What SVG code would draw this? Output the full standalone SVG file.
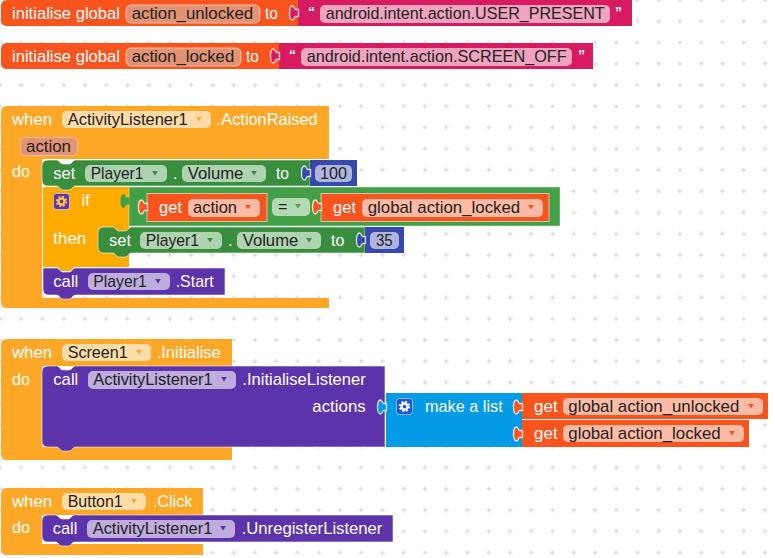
<svg xmlns="http://www.w3.org/2000/svg" width="775" height="558" viewBox="0 0 775 558">
<style>
text{font-family:"Liberation Sans",Arial,Helvetica,sans-serif;font-size:16.2px}
.w{fill:#fff}.k{fill:#222}
.red{fill:#F9541E}.pink{fill:#D81B60}.when{fill:#FFA726}.amber{fill:#FFAB00}.g1{fill:#388E3C}.g2{fill:#43A047}.ind{fill:#3949AB}.pur{fill:#5C33AB}.sky{fill:#039BE5}
.f{fill:#fff;fill-opacity:.6}
.v{fill:#E19374;stroke:#F3BCA4;stroke-width:1}
.e{stroke:#fff;stroke-opacity:.55;stroke-width:1}
.tab{stroke:#fff;stroke-opacity:.8;stroke-width:1.300}
.q{font-size:14px;font-weight:bold}
</style>
<defs>
<pattern id="grid" x="-10.625" y="-10.625" width="21.25" height="21.25" patternUnits="userSpaceOnUse">
<path d="M8.100,10.600h5M10.600,8.100v5" stroke="#d4d4d4" stroke-width="1" fill="none"/>
</pattern>
<path id="tab" d="M.5,-3.500H-2.500C-3.500,-3.500 -3.500,-7 -5.500,-7C-7.500,-7 -8.500,-4 -8.500,0C-8.500,4 -7.500,7 -5.500,7C-3.500,7 -3.500,3.500 -2.500,3.500H.5Z"/>
<path id="arrow" d="M-2.800,-2H2.800L0,2.600Z"/>
<g id="gearshape" fill="none"><circle r="3" stroke-width="2.400" stroke="currentColor"/><circle r="4.800" stroke-width="1.800" stroke-dasharray="2 1.770" stroke="currentColor"/></g>
</defs>
<rect width="775" height="558" fill="#fff"/>
<rect width="775" height="558" fill="url(#grid)"/>

<g id="init-unlocked">
<path class="red" d="M7,0H298V26H7Q1,26 1,20V6Q1,0 7,0Z"/>
<text class="w" x="12" y="19" textLength="108" lengthAdjust="spacingAndGlyphs">initialise global</text>
<rect class="v" x="126" y="5" width="134" height="18" rx="5"/>
<text class="k" x="131.700" y="19" textLength="121.500" lengthAdjust="spacingAndGlyphs">action_unlocked</text>
<text class="w" x="265" y="19" textLength="13" lengthAdjust="spacingAndGlyphs">to</text>
<rect class="pink" x="298" y="0" width="334" height="26"/>
<use href="#tab" class="pink tab" x="298" y="13"/>
<text class="w q" x="308" y="17">“</text>
<rect class="f" x="320" y="5" width="290" height="18" rx="5"/>
<text class="k" x="325.700" y="19" textLength="279" lengthAdjust="spacingAndGlyphs">android.intent.action.USER_PRESENT</text>
<text class="w q" x="615" y="17">”</text>
</g>

<g id="init-locked">
<path class="red" d="M7,43H279V69H7Q1,69 1,63V49Q1,43 7,43Z"/>
<text class="w" x="12" y="62" textLength="108" lengthAdjust="spacingAndGlyphs">initialise global</text>
<rect class="v" x="126" y="48" width="115" height="18" rx="5"/>
<text class="k" x="131.700" y="62" textLength="102.600" lengthAdjust="spacingAndGlyphs">action_locked</text>
<text class="w" x="246" y="62" textLength="13" lengthAdjust="spacingAndGlyphs">to</text>
<rect class="pink" x="279" y="43" width="314" height="26"/>
<use href="#tab" class="pink tab" x="279" y="56"/>
<text class="w q" x="289" y="60">“</text>
<rect class="f" x="301" y="48" width="271" height="18" rx="5"/>
<text class="k" x="306.700" y="62" textLength="260" lengthAdjust="spacingAndGlyphs">android.intent.action.SCREEN_OFF</text>
<text class="w q" x="578" y="60">”</text>
</g>

<g id="when-action">
<path class="when" d="M7,106H329V159H42V298H329V308H7Q1,308 1,302V112Q1,106 7,106Z"/>
<text class="w" x="12" y="125" textLength="40" lengthAdjust="spacingAndGlyphs">when</text>
<rect class="f" x="62" y="111" width="149" height="17" rx="5"/>
<text class="k" x="67.700" y="125" textLength="120" lengthAdjust="spacingAndGlyphs">ActivityListener1</text>
<use href="#arrow" x="199" y="119" fill="#FFA726"/>
<text class="w" x="216.700" y="125" textLength="101" lengthAdjust="spacingAndGlyphs">.ActionRaised</text>
<rect class="v" x="20.500" y="137.500" width="57" height="18" rx="5"/>
<text class="k" x="26" y="152" textLength="45" lengthAdjust="spacingAndGlyphs">action</text>
<text class="w" x="12" y="177" textLength="18" lengthAdjust="spacingAndGlyphs">do</text>
</g>

<g id="if-block">
<path class="amber" d="M43,187H129V267H75c-2,0 -3,4 -6,4h-6c-3,0 -4,-4 -6,-4H43Z"/>
<rect x="53.500" y="193.500" width="16" height="16" rx="3" fill="#5C33AB" stroke="#ffffff" stroke-opacity=".5"/>
<use href="#gearshape" x="61.500" y="201.500" style="color:#FFC24D"/>
<text class="w" x="81.700" y="206" textLength="8" lengthAdjust="spacingAndGlyphs">if</text>
<text class="w" x="53.300" y="244" textLength="33" lengthAdjust="spacingAndGlyphs">then</text>
</g>

<g id="compare-block">
<rect class="g2" x="129" y="187" width="431" height="39" stroke="#fff" stroke-opacity=".4"/>
<use href="#tab" class="g2" x="129" y="201"/>
<rect class="red e" x="147" y="193.500" width="120" height="28"/>
<use href="#tab" class="red tab" x="147" y="207"/>
<text class="w" x="159" y="213" textLength="23" lengthAdjust="spacingAndGlyphs">get</text>
<rect class="f" x="188" y="199" width="72" height="18" rx="5"/>
<text class="k" x="193" y="213" textLength="44" lengthAdjust="spacingAndGlyphs">action</text>
<use href="#arrow" x="248" y="207" fill="#F9541E"/>
<rect class="f" x="272" y="198" width="38" height="18" rx="5"/>
<text class="k" x="278" y="212">=</text>
<use href="#arrow" x="298" y="206" fill="#43A047"/>
<rect class="red e" x="321" y="193.500" width="228" height="28"/>
<use href="#tab" class="red tab" x="321" y="207"/>
<text class="w" x="333" y="213" textLength="23" lengthAdjust="spacingAndGlyphs">get</text>
<rect class="f" x="362" y="199" width="181" height="18" rx="5"/>
<text class="k" x="367.700" y="213" textLength="152.500" lengthAdjust="spacingAndGlyphs">global action_locked</text>
<use href="#arrow" x="531" y="207" fill="#F9541E"/>
</g>

<g id="set-35">
<path class="g1 e" d="M104,227H113c2,0 3,4 6,4h6c3,0 4,-4 6,-4H365V253H131c-2,0 -3,4 -6,4h-6c-3,0 -4,-4 -6,-4H104Q98,253 98,247V233Q98,227 104,227Z"/>
<text class="w" x="109" y="246" textLength="22" lengthAdjust="spacingAndGlyphs">set</text>
<rect class="f" x="140" y="232" width="82" height="17" rx="5"/>
<text class="k" x="145.700" y="246" textLength="53.300" lengthAdjust="spacingAndGlyphs">Player1</text>
<use href="#arrow" x="210" y="240" fill="#388E3C"/>
<text class="w" x="228" y="246">.</text>
<rect class="f" x="237" y="232" width="84" height="17" rx="5"/>
<text class="k" x="242.700" y="246" textLength="55.600" lengthAdjust="spacingAndGlyphs">Volume</text>
<use href="#arrow" x="309" y="240" fill="#388E3C"/>
<text class="w" x="331" y="246" textLength="13.300" lengthAdjust="spacingAndGlyphs">to</text>
<rect class="ind" x="365" y="227" width="39" height="26"/>
<use href="#tab" class="ind tab" x="365" y="240"/>
<rect class="f" x="370" y="232" width="29" height="17" rx="5"/>
<text class="k" x="376" y="246" textLength="16.700" lengthAdjust="spacingAndGlyphs">35</text>
</g>

<g id="set-100">
<path class="g1 e" d="M48,160H57c2,0 3,4 6,4h6c3,0 4,-4 6,-4H310V186H75c-2,0 -3,4 -6,4h-6c-3,0 -4,-4 -6,-4H48Q42,186 42,180V166Q42,160 48,160Z"/>
<text class="w" x="53.300" y="179" textLength="22" lengthAdjust="spacingAndGlyphs">set</text>
<rect class="f" x="85" y="165" width="82" height="17" rx="5"/>
<text class="k" x="90.700" y="179" textLength="52.700" lengthAdjust="spacingAndGlyphs">Player1</text>
<use href="#arrow" x="155" y="173" fill="#388E3C"/>
<text class="w" x="173" y="179">.</text>
<rect class="f" x="182" y="165" width="84" height="17" rx="5"/>
<text class="k" x="187.700" y="179" textLength="55.700" lengthAdjust="spacingAndGlyphs">Volume</text>
<use href="#arrow" x="254" y="173" fill="#388E3C"/>
<text class="w" x="276" y="179" textLength="13" lengthAdjust="spacingAndGlyphs">to</text>
<rect class="ind" x="310" y="160" width="47" height="26"/>
<use href="#tab" class="ind tab" x="310" y="173"/>
<rect class="f" x="315" y="165" width="37" height="17" rx="5"/>
<text class="k" x="320" y="179" textLength="27" lengthAdjust="spacingAndGlyphs">100</text>
</g>

<g id="call-start">
<path class="pur e" d="M43,268H57c2,0 3,4 6,4h6c3,0 4,-4 6,-4H225V295H75c-2,0 -3,4 -6,4h-6c-3,0 -4,-4 -6,-4H49Q43,295 43,289Z"/>
<text class="w" x="53.300" y="287" textLength="25" lengthAdjust="spacingAndGlyphs">call</text>
<rect class="f" x="88" y="273" width="82" height="17" rx="5"/>
<text class="k" x="93.300" y="287" textLength="53.400" lengthAdjust="spacingAndGlyphs">Player1</text>
<use href="#arrow" x="158" y="281" fill="#5C33AB"/>
<text class="w" x="175.700" y="287" textLength="38" lengthAdjust="spacingAndGlyphs">.Start</text>
</g>

<g id="when-screen">
<path class="when" d="M7,339H232V366H42V447H232V460H7Q1,460 1,454V345Q1,339 7,339Z"/>
<text class="w" x="12" y="358" textLength="40" lengthAdjust="spacingAndGlyphs">when</text>
<rect class="f" x="62" y="344" width="89" height="17" rx="5"/>
<text class="k" x="67.700" y="358" textLength="60" lengthAdjust="spacingAndGlyphs">Screen1</text>
<use href="#arrow" x="139" y="352" fill="#FFA726"/>
<text class="w" x="156.700" y="358" textLength="64" lengthAdjust="spacingAndGlyphs">.Initialise</text>
<text class="w" x="12" y="385" textLength="18" lengthAdjust="spacingAndGlyphs">do</text>
</g>

<g id="call-init">
<path class="pur e" d="M48,366H57c2,0 3,4 6,4h6c3,0 4,-4 6,-4H385V447H75c-2,0 -3,4 -6,4h-6c-3,0 -4,-4 -6,-4H48Q42,447 42,441V372Q42,366 48,366Z"/>
<text class="w" x="53.300" y="385" textLength="25" lengthAdjust="spacingAndGlyphs">call</text>
<rect class="f" x="88" y="371" width="148" height="18" rx="5"/>
<text class="k" x="93.300" y="385" textLength="119.400" lengthAdjust="spacingAndGlyphs">ActivityListener1</text>
<use href="#arrow" x="224" y="379" fill="#5C33AB"/>
<text class="w" x="242.300" y="385" textLength="123.400" lengthAdjust="spacingAndGlyphs">.InitialiseListener</text>
<text class="w" x="312.300" y="412" textLength="53.400" lengthAdjust="spacingAndGlyphs">actions</text>
</g>

<g id="make-list">
<rect class="sky" x="386" y="393" width="136" height="54"/>
<use href="#tab" class="sky tab" x="386" y="407"/>
<rect x="396.500" y="398.500" width="16" height="16" rx="3" fill="#1A56DB" stroke="#ffffff" stroke-opacity=".5"/>
<use href="#gearshape" x="404.500" y="406.500" style="color:#fff"/>
<text class="w" x="425" y="412" textLength="77.700" lengthAdjust="spacingAndGlyphs">make a list</text>
</g>

<g id="get-unlocked">
<rect class="red" x="522" y="393" width="246" height="26"/>
<use href="#tab" class="red tab" x="522" y="407"/>
<text class="w" x="534" y="412" textLength="23.700" lengthAdjust="spacingAndGlyphs">get</text>
<rect class="f" x="563" y="398" width="200" height="17" rx="5"/>
<text class="k" x="568.300" y="412" textLength="171" lengthAdjust="spacingAndGlyphs">global action_unlocked</text>
<use href="#arrow" x="751" y="406" fill="#F9541E"/>
</g>

<g id="get-locked">
<rect class="red" x="522" y="420" width="227" height="27"/>
<use href="#tab" class="red tab" x="522" y="434"/>
<text class="w" x="534" y="439" textLength="23.700" lengthAdjust="spacingAndGlyphs">get</text>
<rect class="f" x="563" y="425" width="181" height="17" rx="5"/>
<text class="k" x="568.300" y="439" textLength="152.400" lengthAdjust="spacingAndGlyphs">global action_locked</text>
<use href="#arrow" x="732" y="433" fill="#F9541E"/>
</g>

<g id="when-button">
<path class="when" d="M7,488H203V515H42V544H203V555H7Q1,555 1,549V494Q1,488 7,488Z"/>
<text class="w" x="12" y="507" textLength="40" lengthAdjust="spacingAndGlyphs">when</text>
<rect class="f" x="62" y="493" width="84" height="17" rx="5"/>
<text class="k" x="67.700" y="507" textLength="55" lengthAdjust="spacingAndGlyphs">Button1</text>
<use href="#arrow" x="134" y="501" fill="#FFA726"/>
<text class="w" x="152.700" y="507" textLength="39.700" lengthAdjust="spacingAndGlyphs">.Click</text>
<text class="w" x="12" y="533" textLength="18" lengthAdjust="spacingAndGlyphs">do</text>
</g>

<g id="call-unregister">
<path class="pur e" d="M48,515H56c2,0 3,4 6,4h6c3,0 4,-4 6,-4H393V542H74c-2,0 -3,4 -6,4h-6c-3,0 -4,-4 -6,-4H48Q42,542 42,536V521Q42,515 48,515Z"/>
<text class="w" x="52.700" y="534" textLength="24.600" lengthAdjust="spacingAndGlyphs">call</text>
<rect class="f" x="87" y="520" width="148" height="18" rx="5"/>
<text class="k" x="92.700" y="534" textLength="119.600" lengthAdjust="spacingAndGlyphs">ActivityListener1</text>
<use href="#arrow" x="223" y="528" fill="#5C33AB"/>
<text class="w" x="241.700" y="534" textLength="140.700" lengthAdjust="spacingAndGlyphs">.UnregisterListener</text>
</g>
</svg>
